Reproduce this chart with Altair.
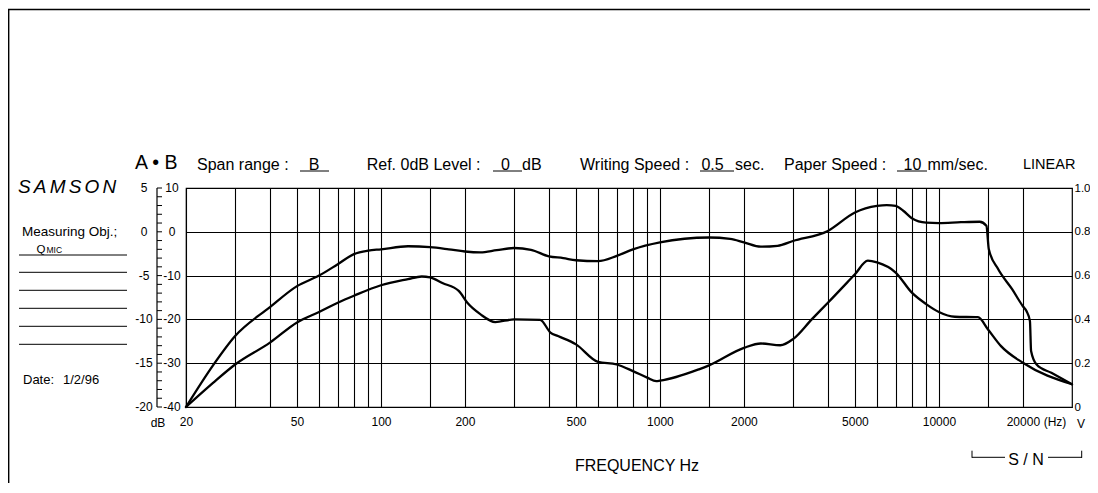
import altair as alt
import pandas as pd

# ---------------- data ----------------
# Upper response curve (frequency in Hz, level in dB on the inner scale)
freq_a = [20, 25, 30, 40, 50, 60, 70, 80, 90, 100, 125, 150, 175, 200, 227, 260, 300, 345,
          400, 450, 500, 600, 700, 800, 1000, 1500, 1785, 2000, 2300, 2640, 3000, 4000, 5000,
          6000, 6500, 7000, 7450, 8000, 9000, 10000, 12000, 14000, 14800, 15100, 16300, 18300,
          20000, 20600, 21200, 21400, 22400, 25300, 30000]
db_a = [-40, -30.5, -23.8, -17.2, -12.4, -10.0, -7.4, -5.1, -4.3, -4.0, -3.3, -3.5, -4.0, -4.5,
        -4.7, -4.2, -3.7, -4.1, -5.6, -6.0, -6.5, -6.7, -5.5, -4.0, -2.4, -1.3, -1.6, -2.4, -3.4,
        -3.2, -2.1, 0.2, 4.4, 5.9, 6.1, 5.9, 4.8, 3.1, 2.1, 2.0, 2.2, 2.3, 1.4, -4.0, -8.5, -13.1,
        -17.0, -18.1, -20.4, -27.2, -30.3, -32.2, -34.8]

# Lower response curve
freq_b = [20, 25, 30, 40, 50, 60, 70, 80, 100, 125, 140, 150, 166, 190, 204, 227, 257, 300, 372,
          405, 431, 500, 600, 700, 800, 900, 970, 1000, 1380, 1500, 2000, 2300, 2700, 3000, 3500,
          4000, 5000, 5560, 6000, 7000, 8000, 9000, 10000, 11400, 13800, 15000, 16700, 20000, 30000]
db_b = [-40, -34.5, -30.3, -25.3, -20.7, -18.3, -16.2, -14.6, -12.2, -10.8, -10.2, -10.4, -11.7,
        -13.5, -16.2, -18.8, -20.6, -20.0, -20.1, -23.0, -23.8, -25.7, -29.7, -30.3, -31.8, -33.3,
        -34.1, -34.0, -31.4, -30.5, -26.5, -25.5, -25.9, -24.5, -20.0, -16.2, -9.7, -6.6, -7.0,
        -9.3, -13.9, -16.5, -18.3, -19.4, -19.5, -22.3, -26.1, -29.9, -34.8]

# Axis / grid definitions
grid_freqs = [20, 30, 40, 50, 60, 70, 80, 90, 100, 150, 200, 300, 400, 500, 600, 700, 800, 900,
              1000, 1500, 2000, 3000, 4000, 5000, 6000, 7000, 8000, 9000, 10000, 15000, 20000]
label_freqs = [20, 50, 100, 200, 500, 1000, 2000, 5000, 10000, 20000]
db_major = [10, 0, -10, -20, -30, -40]
outer_labels = ["5", "0", "-5", "-10", "-15", "-20"]
db_minor = list(range(-40, 11, 2))

# ---------------- layout constants ----------------
FONT = "Liberation Sans"
OX, OY = 186, 188          # page position of plot origin
W, H = 886, 219            # plot area size
one = pd.DataFrame({"k": [0]})

xscale = alt.Scale(type="log", domain=[20, 30000], nice=False)
yscale = alt.Scale(domain=[-40, 10], nice=False, zero=False)


def txt(s, x, y, size=12, align="left", italic=False, baseline="middle"):
    return alt.Chart(one).mark_text(
        text=s, fontSize=size, align=align, baseline=baseline, font=FONT,
        fontStyle="italic" if italic else "normal", color="black"
    ).encode(x=alt.value(x - OX), y=alt.value(y - OY))


def hline(x1, x2, y, w=1.0):
    return alt.Chart(one).mark_rule(color="black", strokeWidth=w).encode(
        x=alt.value(x1 - OX), x2=alt.value(x2 - OX), y=alt.value(y - OY))


def vline(x, y1, y2, w=1.0):
    return alt.Chart(one).mark_rule(color="black", strokeWidth=w).encode(
        x=alt.value(x - OX), y=alt.value(y1 - OY), y2=alt.value(y2 - OY))


# ---------------- curves with grid axes ----------------
curves = pd.concat([
    pd.DataFrame({"freq": freq_a, "db": db_a, "curve": "A"}),
    pd.DataFrame({"freq": freq_b, "db": db_b, "curve": "B"}),
])

label_test = " || ".join(f"datum.value == {v}" for v in label_freqs)
xaxis = alt.Axis(values=grid_freqs, grid=True, gridColor="#000000", gridWidth=1.1, ticks=False,
                 domain=False, labelFontSize=12, labelFont=FONT, labelColor="black",
                 labelPadding=9, labelOverlap=False, labelFlush=False, title=None,
                 labelExpr=f"({label_test}) ? '' + datum.value : ''")
yaxis = alt.Axis(orient="right", values=db_major, grid=True, gridColor="#000000", gridWidth=1.1,
                 ticks=False, domain=False, labelFontSize=11.5, labelFont=FONT, labelColor="black",
                 labelPadding=2, title=None, labelFlush=False, labelOverlap=False,
                 labelExpr="datum.value == -40 ? '0' : format((datum.value + 40) / 50, '.1f')")

Y = alt.Y("db:Q", scale=yscale, axis=yaxis)

lines = alt.Chart(curves).mark_line(
    color="black", strokeWidth=2.3, interpolate="monotone", strokeCap="round", strokeJoin="round"
).encode(
    x=alt.X("freq:Q", scale=xscale, axis=xaxis),
    y=Y,
    detail="curve:N",
    order="freq:Q",
)

# ---------------- left dual dB scale ----------------
minor_df = pd.DataFrame({"db": db_minor})
major_df = pd.DataFrame({"db": db_major, "inner": [str(v) for v in db_major], "outer": outer_labels})

scale_line = vline(157, OY, OY + H, 1.2)
scale_ticks = alt.Chart(minor_df).mark_rule(color="black", strokeWidth=1).encode(
    y=Y, x=alt.value(157 - OX), x2=alt.value(162 - OX))
inner_lbl = alt.Chart(major_df).mark_text(fontSize=12, font=FONT, align="center", baseline="middle",
                                          color="black").encode(
    y=Y, x=alt.value(172 - OX), text="inner:N")
outer_lbl = alt.Chart(major_df).mark_text(fontSize=12, font=FONT, align="center", baseline="middle",
                                          color="black").encode(
    y=Y, x=alt.value(144 - OX), text="outer:N")

# ---------------- annotations ----------------
annos = [
    # outer frame of the sheet
    hline(8, 1098, 9.5, 1.6),
    vline(8.6, 9, 493, 1.6),
    # header
    txt("A \u2022 B", 135, 162.6, 19.5),
    txt("Span range :", 197, 164.5, 16),
    txt("B", 314, 164.5, 16, "center"),
    hline(300, 329, 171),
    txt("Ref. 0dB Level :", 366.7, 164.5, 16),
    txt("0", 505.5, 164.5, 16, "center"),
    hline(493, 522, 171),
    txt("dB", 522, 164.5, 16),
    txt("Writing Speed :", 580, 164.5, 16),
    txt("0.5", 712.5, 164.5, 16, "center"),
    hline(700, 734, 171),
    txt("sec.", 735, 164.5, 16),
    txt("Paper Speed :", 784, 164.5, 16),
    txt("10", 912.5, 164.5, 16, "center"),
    hline(897, 927, 171),
    txt("mm/sec.", 927.5, 164.5, 16),
    txt("LINEAR", 1023, 164.6, 14.5),
    # left panel
    txt("S\u2006A\u2006M\u2006S\u2006O\u2006N", 18, 186.6, 19, italic=True),
    txt("Measuring Obj.;", 22, 232, 13.5),
    txt("Q", 36.5, 253, 11.5, baseline="alphabetic"),
    txt("MIC", 46.5, 253, 8.5, baseline="alphabetic"),
    hline(19, 127, 255),
    hline(19, 127, 272.3),
    hline(19, 127, 290.3),
    hline(19, 127, 308.3),
    hline(19, 127, 326.3),
    hline(19, 127, 344.3),
    txt("Date:", 23, 379.5, 13),
    txt("1/2/96", 63, 379.5, 13),
    # bottom / right annotations
    txt("dB", 158, 422.5, 12, "center"),
    txt("(Hz)", 1055, 421.5, 12, "center"),
    txt("V", 1077, 423.5, 12),
    txt("FREQUENCY Hz", 637, 465.5, 16, "center"),
    vline(972, 450.7, 457.8),
    hline(972, 1005, 457.3),
    txt("S / N", 1026, 459.5, 16, "center"),
    hline(1048, 1082, 457.3),
    vline(1081.7, 450.7, 457.8),
]

chart = alt.layer(
    lines, scale_line, scale_ticks, inner_lbl, outer_lbl, *annos
).properties(
    width=W, height=H,
    autosize=alt.AutoSizeParams(type="none"),
    padding={"left": 178, "top": 180, "right": 18, "bottom": 76},
    background="white",
).configure_view(stroke="black", strokeWidth=1.2)

chart.save("out.html", embed_options={"renderer": "svg", "actions": False})
